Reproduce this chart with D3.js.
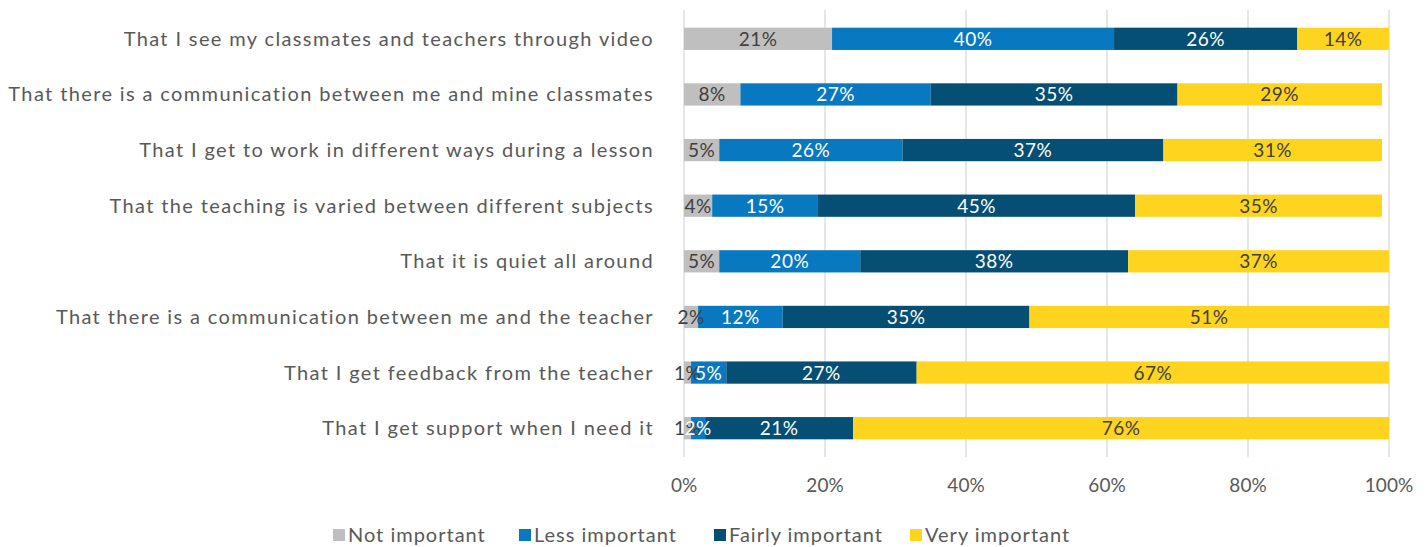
<!DOCTYPE html>
<html>
<head>
<meta charset="utf-8">
<script src="https://d3js.org/d3.v7.min.js"></script>
<style>
  body { margin: 0; background: #fff; }
  text { font-family: "Lato", "DejaVu Sans", sans-serif; }
</style>
</head>
<body>
<div id="chart"></div>
<script>
var categories = [
  "That I see my classmates and teachers through video",
  "That there is a communication between me and mine classmates",
  "That I get to work in different ways during a lesson",
  "That the teaching is varied between different subjects",
  "That it is quiet all around",
  "That there is a communication between me and the teacher",
  "That I get feedback from the teacher",
  "That I get support when I need it"
];
var seriesNames = ["Not important", "Less important", "Fairly important", "Very important"];
var notImportant    = [21, 8, 5, 4, 5, 2, 1, 1];
var lessImportant   = [40, 27, 26, 15, 20, 12, 5, 2];
var fairlyImportant = [26, 35, 37, 45, 38, 35, 27, 21];
var veryImportant   = [14, 29, 31, 35, 37, 51, 67, 76];
var tickValues = [0, 20, 40, 60, 80, 100];

var colors = ["#BFBFBF", "#0878C0", "#054E74", "#FFD41E"];
var labelColors = ["#404040", "#ffffff", "#ffffff", "#404040"];

var width = 1427, height = 547;
var margin = {left: 684, right: 38, top: 11, bottom: 91};

var svg = d3.select("#chart").append("svg")
  .attr("width", width).attr("height", height);

var x = d3.scaleLinear().domain([0, 100])
  .range([margin.left, width - margin.right]).clamp(true);
var y = d3.scaleBand().domain(categories)
  .range([margin.top, height - margin.bottom]).paddingInner(0.6).paddingOuter(0.3);

// gridlines
svg.selectAll("line.grid").data(tickValues).enter().append("line")
  .attr("x1", d => x(d)).attr("x2", d => x(d))
  .attr("y1", margin.top - 1).attr("y2", height - margin.bottom + 1)
  .attr("stroke", "#d9d9d9").attr("stroke-width", 1.3);

// tick labels
svg.selectAll("text.tick").data(tickValues).enter().append("text")
  .attr("x", d => x(d)).attr("y", 492)
  .attr("text-anchor", "middle")
  .attr("font-size", 19).attr("fill", "#595959")
  .text(d => d + "%");

var series = [notImportant, lessImportant, fairlyImportant, veryImportant];
var rows = categories.map(function(c, i) {
  var acc = 0;
  return series.map(function(s, k) {
    var seg = {cat: c, k: k, v: s[i], x0: acc, x1: acc + s[i]};
    acc += s[i];
    return seg;
  });
});
var segs = [].concat.apply([], rows);

svg.selectAll("rect.seg").data(segs).enter().append("rect")
  .attr("x", d => x(d.x0))
  .attr("width", d => x(d.x1) - x(d.x0))
  .attr("y", d => y(d.cat))
  .attr("height", y.bandwidth())
  .attr("fill", d => colors[d.k]);

svg.selectAll("text.val").data(segs).enter().append("text")
  .attr("x", d => (x(d.x0) + x(d.x1)) / 2)
  .attr("y", d => y(d.cat) + y.bandwidth() / 2 + 7)
  .attr("text-anchor", "middle")
  .attr("font-size", 19)
  .attr("letter-spacing", 0.5)
  .attr("fill", d => labelColors[d.k])
  .text(d => d.v + "%");

// category labels
var catText = svg.selectAll("text.cat").data(categories).enter().append("text")
  .attr("x", margin.left - 30)
  .attr("y", d => y(d) + y.bandwidth() / 2 + 7)
  .attr("text-anchor", "end")
  .attr("font-size", 20).attr("fill", "#595959")
  .text(d => d);

// widen the text a bit, the original font is much wider
var longest = d3.max(catText.nodes(), n => n.getComputedTextLength());
var nChars = d3.max(categories, d => d.length);
var spacing = (646 - longest) / nChars;
catText.attr("letter-spacing", spacing);

// legend
var legendX = [333, 519, 714, 910];
var lg = svg.selectAll("g.leg").data(seriesNames).enter().append("g")
  .attr("transform", (d, i) => "translate(" + legendX[i] + ",535)");
lg.append("rect").attr("x", 0).attr("y", -6).attr("width", 12).attr("height", 12)
  .attr("fill", (d, i) => colors[i]);
lg.append("text").attr("x", 15).attr("y", 7)
  .attr("font-size", 20).attr("letter-spacing", 1).attr("fill", "#595959")
  .text(d => d);
</script>
</body>
</html>
